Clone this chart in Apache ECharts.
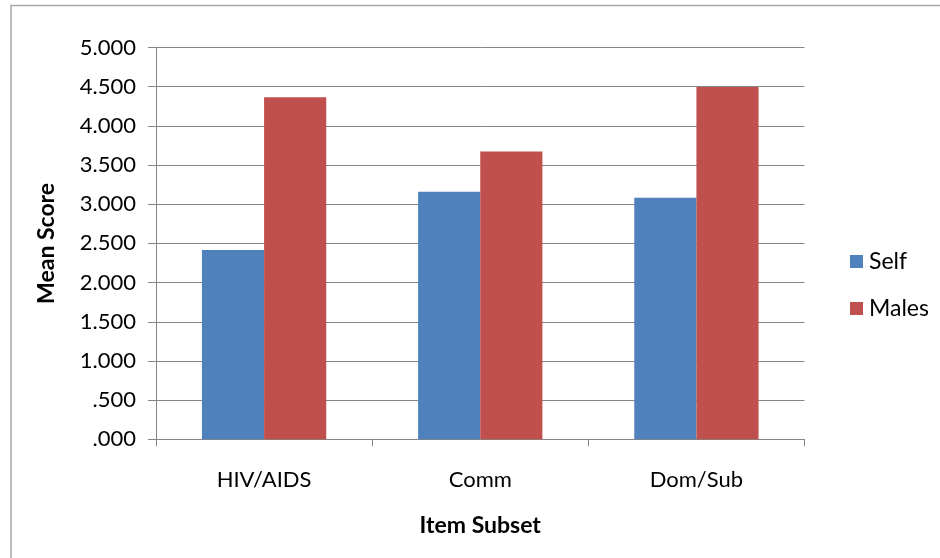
<!DOCTYPE html>
<html>
<head>
<meta charset="utf-8">
<script src="https://cdn.jsdelivr.net/npm/echarts@6/dist/echarts.min.js"></script>
<style>
  html, body { margin: 0; padding: 0; background: #fff; }
  #chart { width: 940px; height: 558px; }
</style>
</head>
<body>
<div id="chart"></div>
<script>
// Mean scores per item subset
const categories = ['HIV/AIDS', 'Comm', 'Dom/Sub'];
const selfScores = [2.417, 3.160, 3.083];
const maleScores = [4.365, 3.673, 4.495];
const yTicks = [0, 0.5, 1, 1.5, 2, 2.5, 3, 3.5, 4, 4.5, 5];

const FONT = 'Lato';
const chart = echarts.init(document.getElementById('chart'), null, { renderer: 'canvas' });

// ".500"-style labels: three decimals, no leading zero
function fmt(v) {
  const s = v.toFixed(3);
  return s.startsWith('0') ? s.slice(1) : s;
}

chart.setOption({
  animation: false,
  backgroundColor: '#fff',
  graphic: [{
    type: 'polyline',
    shape: { points: [[11, 558], [11, 5.5], [940, 5.5]] },
    style: { fill: 'none', stroke: '#a6a6a6', lineWidth: 1.5 },
    silent: true
  }],
  grid: { left: 156, top: 47.5, right: 135.5, bottom: 118.7 },
  legend: {
    orient: 'vertical',
    left: 845,
    top: 245,
    itemWidth: 13,
    itemHeight: 13,
    itemGap: 24,
    icon: 'rect',
    textStyle: { fontFamily: FONT, fontSize: 23, color: '#000', padding: [0, 0, 0, 1] },
    data: ['Self', 'Males']
  },
  xAxis: {
    type: 'category',
    data: categories,
    name: 'Item Subset',
    nameLocation: 'middle',
    nameGap: 75,
    nameTextStyle: { fontFamily: FONT, fontSize: 23, fontWeight: 'bold', color: '#000' },
    axisLine: { lineStyle: { color: '#868686', width: 1 } },
    axisTick: { show: true, length: 7, lineStyle: { color: '#868686' } },
    axisLabel: { fontFamily: FONT, fontSize: 22, color: '#000', margin: 30 }
  },
  yAxis: {
    type: 'value',
    min: 0,
    max: 5,
    interval: 0.5,
    name: 'Mean Score',
    nameLocation: 'middle',
    nameGap: 98,
    nameTextStyle: { fontFamily: FONT, fontSize: 23, fontWeight: 'bold', color: '#000' },
    axisLine: { show: true, lineStyle: { color: '#868686', width: 1 } },
    axisTick: { show: true, length: 8, lineStyle: { color: '#868686' } },
    axisLabel: {
      fontFamily: FONT, fontSize: 22, color: '#000', margin: 20,
      formatter: v => fmt(v),
      customValues: yTicks
    },
    splitLine: { lineStyle: { color: '#868686', width: 1 } }
  },
  series: [
    {
      name: 'Self', type: 'bar', data: selfScores,
      itemStyle: { color: '#4F81BD' },
      barGap: '0%', barCategoryGap: '42.5%'
    },
    {
      name: 'Males', type: 'bar', data: maleScores,
      itemStyle: { color: '#C0504D' },
      barGap: '0%', barCategoryGap: '42.5%'
    }
  ]
});
</script>
</body>
</html>
